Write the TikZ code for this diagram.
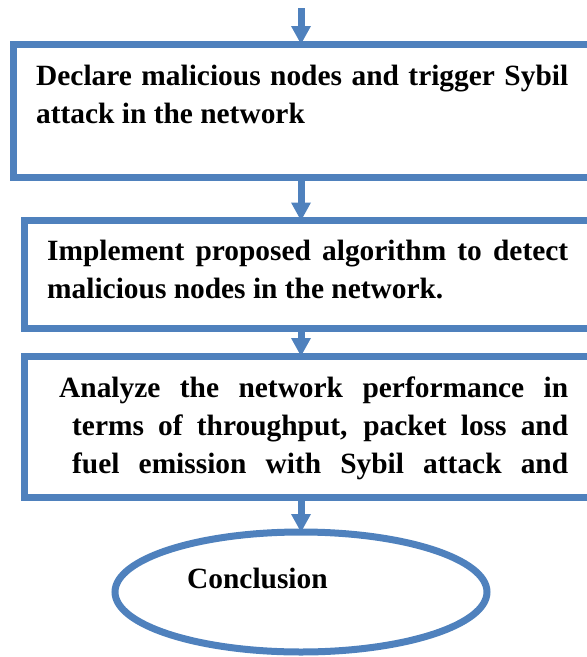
\documentclass[tikz,border=0pt]{standalone}
\usepackage{fontspec}
\setmainfont{Liberation Serif}
\usetikzlibrary{arrows.meta,shapes.geometric}
\definecolor{flowblue}{RGB}{79,129,189}
\begin{document}
\begin{tikzpicture}[x=1pt,y=-1pt,
  stepbox/.style={draw=flowblue,line width=7pt,rectangle,inner sep=0pt,outer sep=0pt},
  endbox/.style={draw=flowblue,line width=7pt,ellipse,inner sep=0pt,outer sep=0pt,
                 minimum width=372pt,minimum height=120pt},
  flow/.style={draw=flowblue,line width=7pt,
               -{Triangle[width=20pt,length=18pt,line width=0pt]}},
  txt/.style={anchor=base west,inner sep=0pt,
              font=\bfseries\fontsize{29.4}{38}\selectfont}]
\path[use as bounding box,clip] (0,0) rectangle (587,657);

% vertical axis of the flow arrows
\coordinate (axis) at (301,0);
\coordinate (start) at (301,8);

% process boxes (they run off the right edge)
\node[stepbox,minimum width=606.5pt,minimum height=133.5pt] (b1) at (316.75,110.75) {};
\node[stepbox,minimum width=596pt,minimum height=107.5pt] (b2) at (322,274.25) {};
\node[stepbox,minimum width=596pt,minimum height=141pt] (b3) at (322,426.5) {};
\node[endbox] (end) at (301,592) {};

% box texts, justified lines
\node[txt] (t1a) at (36,85) {\makebox[532pt][s]{Declare malicious nodes and trigger Sybil}};
\node[txt] (t1b) at (36,123) {attack in the network};

\node[txt] (t2a) at (47,260) {\makebox[521pt][s]{Implement proposed algorithm to detect}};
\node[txt] (t2b) at (47,298) {malicious nodes in the network.};

\node[txt] (t3a) at (59,397) {\makebox[509pt][s]{Analyze the network performance in}};
\node[txt] (t3b) at (72,435) {\makebox[496pt][s]{terms of throughput, packet loss and}};
\node[txt] (t3c) at (72,473) {\makebox[496pt][s]{fuel emission with Sybil attack and}};

\node[txt] (t4) at (187,588) {Conclusion};

% connectors
\draw[flow] (start) -- (b1.north -| axis);
\draw[flow] (b1.south -| axis) -- (b2.north -| axis);
\draw[flow] (b2.south -| axis) -- (b3.north -| axis);
\draw[flow] (b3.south -| axis) -- (end.north);
\end{tikzpicture}
\end{document}
